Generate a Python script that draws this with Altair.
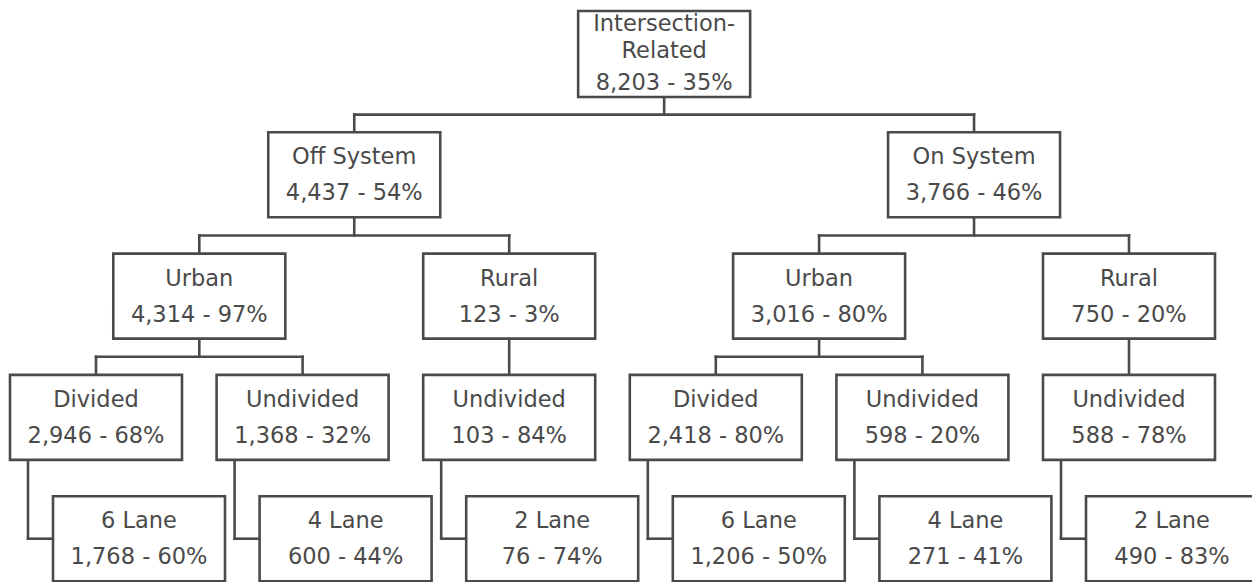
import altair as alt
import pandas as pd

# ---- data (tree of crash counts) ----
labels = ["Intersection-\nRelated", "Off System", "On System",
          "Urban", "Rural", "Urban", "Rural",
          "Divided", "Undivided", "Undivided", "Divided", "Undivided", "Undivided",
          "6 Lane", "4 Lane", "2 Lane", "6 Lane", "4 Lane", "2 Lane"]
counts = [8203, 4437, 3766, 4314, 123, 3016, 750,
          2946, 1368, 103, 2418, 598, 588,
          1768, 600, 76, 1206, 271, 490]
pcts = [35, 54, 46, 97, 3, 80, 20,
        68, 32, 84, 80, 20, 78,
        60, 44, 74, 50, 41, 83]
parents = [None, 0, 0, 1, 1, 2, 2,
           3, 3, 4, 5, 5, 6,
           7, 8, 9, 10, 11, 12]

# ---- layout constants (style) ----
BOX_W = 172
BOX_H = 85
ROOT_H = 86
TOP0 = 11
ROW_STEP = 121.3
COL0 = 96
COL_STEP = 206.6
LEAF_SHIFT = 43
LEAF_LINK = 18
INK = "#4a4a4a"
SW = 2.6

n = len(labels)
children = {i: [] for i in range(n)}
depth = [0] * n
for i, p in enumerate(parents):
    if p is not None:
        children[p].append(i)
        depth[i] = depth[p] + 1

cx = [None] * n
# level-3 nodes take the columns
col = 0
for i in range(n):
    if depth[i] == 3:
        cx[i] = COL0 + col * COL_STEP
        col += 1
# leaves shift right of their parent
for i in range(n):
    if depth[i] == 4:
        cx[i] = cx[parents[i]] + LEAF_SHIFT
# upper levels centred on children
for d in (2, 1, 0):
    for i in range(n):
        if depth[i] == d:
            cs = [cx[c] for c in children[i]]
            cx[i] = sum(cs) / len(cs)

top = [TOP0 + depth[i] * ROW_STEP for i in range(n)]
bot = [top[i] + (ROOT_H if i == 0 else BOX_H) for i in range(n)]

rects = pd.DataFrame({
    "x": [cx[i] - BOX_W / 2 for i in range(n)],
    "x2": [cx[i] + BOX_W / 2 for i in range(n)],
    "y": top, "y2": bot,
})

rules = []
for i in range(n):
    ch = children[i]
    if not ch:
        continue
    if depth[i] == 3:
        c = ch[0]
        lx = cx[i] - BOX_W / 2 + LEAF_LINK
        my = (top[c] + bot[c]) / 2
        rules.append((lx, lx, bot[i], my))
        rules.append((lx, cx[c] - BOX_W / 2, my, my))
    elif len(ch) == 1:
        rules.append((cx[i], cx[i], bot[i], top[ch[0]]))
    else:
        my = (bot[i] + top[ch[0]]) / 2
        rules.append((cx[i], cx[i], bot[i], my))
        xs = [cx[c] for c in ch]
        rules.append((min(xs), max(xs), my, my))
        for c in ch:
            rules.append((cx[c], cx[c], my, top[c]))
rules = pd.DataFrame(rules, columns=["x", "x2", "y", "y2"])

tx, ty, tt = [], [], []
for i in range(n):
    name_lines = labels[i].split("\n")
    val = f"{counts[i]:,} - {pcts[i]}%"
    if len(name_lines) == 2:
        offs = [20, 47, 79]
    else:
        offs = [32, 68]
    for line, o in zip(name_lines + [val], offs):
        tx.append(cx[i]); ty.append(top[i] + o); tt.append(line)
texts = pd.DataFrame({"x": tx, "y": ty, "t": tt})

xs = alt.Scale(domain=[8, 1252], nice=False, zero=False)
ys = alt.Scale(domain=[8, 582], nice=False, zero=False, reverse=True)

rule_layer = alt.Chart(rules).mark_rule(color=INK, strokeWidth=SW, strokeCap="square").encode(
    x=alt.X("x:Q", scale=xs, axis=None), x2="x2:Q",
    y=alt.Y("y:Q", scale=ys, axis=None), y2="y2:Q")

rect_layer = alt.Chart(rects).mark_rect(fill="white", stroke=INK, strokeWidth=SW).encode(
    x=alt.X("x:Q", scale=xs, axis=None), x2="x2:Q",
    y=alt.Y("y:Q", scale=ys, axis=None), y2="y2:Q")

text_layer = alt.Chart(texts).mark_text(
    font="DejaVu Sans", fontSize=22.5, color=INK, align="center", baseline="alphabetic"
).encode(
    x=alt.X("x:Q", scale=xs, axis=None),
    y=alt.Y("y:Q", scale=ys, axis=None),
    text="t:N")

chart = alt.layer(rule_layer, rect_layer, text_layer).properties(
    width=1244, height=574, padding=0, autosize=alt.AutoSizeParams(type="none")
).configure_view(stroke=None)

chart.save("out.html", embed_options={"renderer": "svg", "actions": False})
